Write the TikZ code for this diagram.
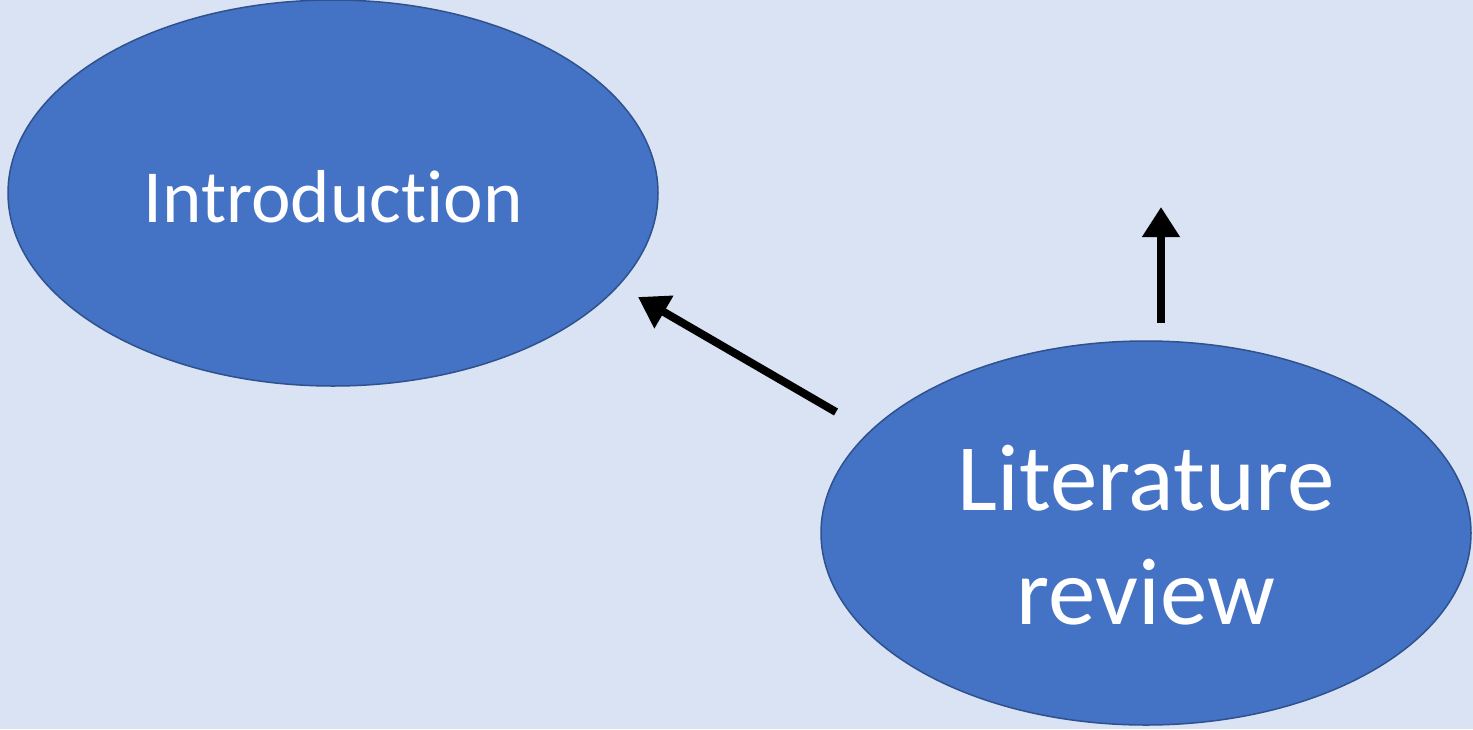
\documentclass[tikz,border=0pt]{standalone}
\usepackage{fontspec}
\setmainfont{Carlito}[Ligatures=NoCommon]
\usetikzlibrary{arrows.meta}
\definecolor{bg}{HTML}{DAE3F3}
\definecolor{fillb}{HTML}{4472C4}
\definecolor{edgeb}{HTML}{2F528F}
\begin{document}
\begin{tikzpicture}[x=1pt,y=-1pt,
  lbl/.style={text=white,align=center,inner sep=0pt},
  arr/.style={line width=8pt,-{Triangle[length=30pt,width=36pt]}}]
\fill[bg] (0,0) rectangle (1473,729);
\useasboundingbox (0,0) rectangle (1473,729);
\draw[fill=fillb,draw=edgeb,line width=1.5pt] (333,193) ellipse [x radius=325, y radius=193];
\node[lbl,anchor=base,font=\fontsize{75}{90}\selectfont] (intro) at (333,222) {Introduction};
\draw[fill=fillb,draw=edgeb,line width=1.5pt] (1146,533) ellipse [x radius=325, y radius=192];
\node[lbl,font=\fontsize{95}{114}\selectfont] (lit) at (1146,535) {Literature\\review};
\coordinate (a1s) at (836,412);
\coordinate (a1e) at (638,297);
\coordinate (a2s) at (1161,323);
\coordinate (a2e) at (1161,207);
\draw[arr] (a1s) -- (a1e);
\draw[arr] (a2s) -- (a2e);
\end{tikzpicture}
\end{document}
